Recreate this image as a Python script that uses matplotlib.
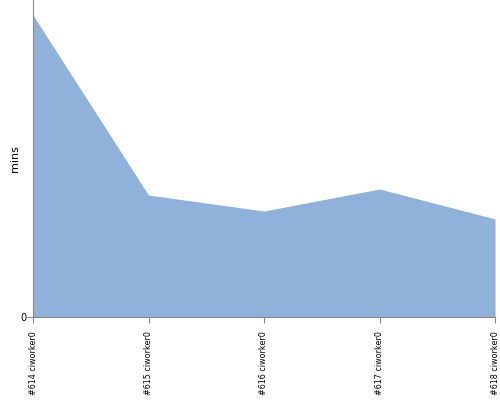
import matplotlib
matplotlib.use('Agg')
from matplotlib import pyplot as plt

# builds and their durations (mins)
builds = ['#614 ciworker0', '#615 ciworker0', '#616 ciworker0', '#617 ciworker0', '#618 ciworker0']
mins = [10.0, 4.04, 3.51, 4.24, 3.25]

fig = plt.figure(figsize=(5, 4), dpi=100)
ax = fig.add_axes([0.066, 0.2075, 0.924, 0.7925])

x = list(range(len(builds)))
ax.fill_between(x, mins, 0, color='#8fb1da', linewidth=0)

ax.set_xlim(0, len(builds) - 1)
ax.set_ylim(0, 10.5)
ax.set_xticks(x)
ax.set_xticklabels(builds, rotation=90, fontsize=5.8)
ax.set_yticks([0])
ax.set_yticklabels(['0'], fontsize=7)
ax.set_ylabel('mins', fontsize=8, labelpad=0)

for s in ['top', 'right']:
    ax.spines[s].set_visible(False)
for s in ['left', 'bottom']:
    ax.spines[s].set_color('#888888')
ax.tick_params(colors='#888888', labelcolor='black', length=4, width=0.8)
ax.tick_params(axis='x', pad=6)
ax.tick_params(axis='y', pad=1)

plt.savefig('out.png', dpi=100)
